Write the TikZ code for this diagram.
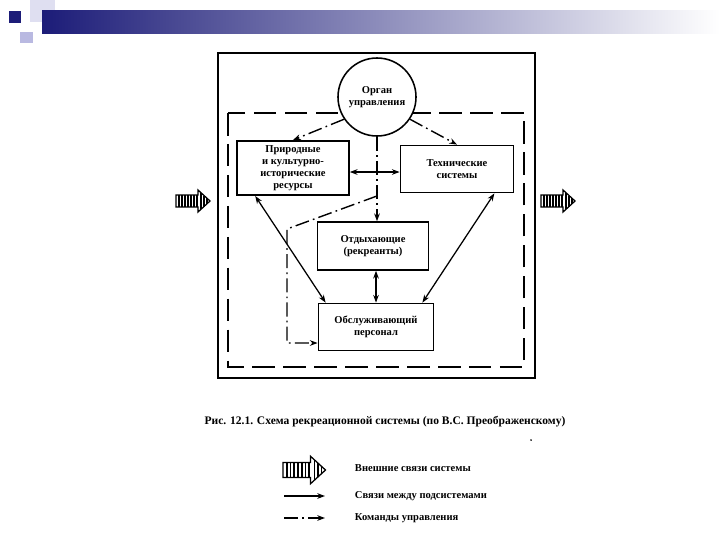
\documentclass[tikz,border=0pt]{standalone}
\usepackage{fontspec}
\setmainfont{Liberation Serif}
\usetikzlibrary{positioning, arrows.meta, calc}
\definecolor{slidenavy}{RGB}{28, 28, 120}
\definecolor{slidemid}{RGB}{150, 150, 180}
\definecolor{slidelav}{RGB}{185, 185, 225}
\tikzset{
    sysbox/.style={rectangle, draw, line width=1.1pt, fill=white, align=center,
        font=\fontsize{7.5}{8.5}\selectfont\bfseries},
    orgnode/.style={circle, draw, line width=1.1pt, fill=white, minimum size=1.95cm,
        align=center, font=\fontsize{7.5}{8.5}\selectfont\bfseries},
    flow/.style={-{Stealth[length=5.5pt,width=4pt]}, line width=0.9pt},
    link/.style={flow, {Stealth[length=5.5pt,width=4pt]}-{Stealth[length=5.5pt,width=4pt]}},
    command/.style={flow, line width=1pt, dash pattern=on 10pt off 3pt on 1.2pt off 3pt},
    legtext/.style={anchor=west, font=\fontsize{7.5}{8.5}\selectfont\bfseries},
    extarrow/.pic={
        \draw[line width=0.9pt, fill=white] (0,-6) -- (22,-6) -- (22,-11) -- (34,0)
            -- (22,11) -- (22,6) -- (0,6) -- cycle;
        \foreach \i in {3,6,...,21} \draw[line width=1.2pt] (\i,-6) -- (\i,6);
        \foreach \i in {25,28,31} \draw[line width=1pt] (\i,{-11*(34-\i)/12}) -- (\i,{11*(34-\i)/12});
    }
}

\begin{document}
\begin{tikzpicture}[x=0.025cm, y=-0.025cm]
    \useasboundingbox (0,0) rectangle (720,540);

    % slide decoration
    \fill[slidelav!45] (30,0) rectangle (55,22);
    \fill[slidelav] (20,32) rectangle (33,43);
    \fill[slidenavy] (9,11) rectangle (21,23);
    \shade[left color=slidenavy, middle color=slidemid, right color=white] (42,10) rectangle (720,33);

    % system borders
    \draw[line width=1.4pt] (218,53) rectangle (535,378);
    \draw[line width=1.4pt, dash pattern=on 16pt off 6pt] (228,113) rectangle (524,367);

    \node[orgnode] (organ) at (377,97) {Орган\\управления};
    \node[sysbox, minimum width=2.8cm, minimum height=1.2cm] (res) at (293,168)
        {Природные\\и культурно-\\исторические\\ресурсы};
    \node[sysbox, minimum width=2.83cm, minimum height=1.18cm] (tech) at (457,169)
        {Технические\\системы};
    \node[sysbox, minimum width=2.78cm, minimum height=1.2cm] (rest) at (373,246)
        {Отдыхающие\\(рекреанты)};
    \node[sysbox, minimum width=2.88cm, minimum height=1.18cm] (pers) at (376,327)
        {Обслуживающий\\персонал};

    % control commands
    \draw[command] (organ.214) -- (res.north);
    \draw[command] (organ.326) -- (tech.north);
    \draw[command] (organ.south) -- (organ.south |- rest.north);
    \coordinate (branch) at (organ.south |- res.south);
    \coordinate (knee) at (287,229);
    \coordinate (corner) at (287,343);
    \draw[command] (branch) -- (knee) -- (corner) -- (corner -| pers.west);

    % links between subsystems
    \draw[link] ($(res.east)+(0,4)$) -- ($(tech.west)+(0,3)$);
    \draw[link] ($(res.south west)+(19,0)$) -- ($(pers.north west)+(8,0)$);
    \draw[link] ($(tech.south east)+(-20,0)$) -- ($(pers.north east)+(-12,0)$);
    \draw[link] (pers.north |- rest.south) -- (pers.north);

    % external links
    \pic at (176,201) {extarrow};
    \pic at (541,201) {extarrow};

    \node[font=\fontsize{8.2}{10}\selectfont\bfseries] (caption) at (385,422)
        {Рис. 12.1. Схема рекреационной системы (по В.С. Преображенскому)};
    \fill (531,440) circle (0.7pt);

    % legend
    \pic[scale=1.25] at (283,470) {extarrow};
    \node[legtext] (lgext) at (350,468) {Внешние связи системы};
    \node[legtext] (lglink) at (350,496) {Связи между подсистемами};
    \node[legtext] (lgcmd) at (350,518) {Команды управления};
    \coordinate (lla) at (284,496);
    \coordinate (llb) at (325,496);
    \coordinate (lca) at (284,518);
    \coordinate (lcb) at (325,518);
    \draw[flow] (lla) -- (llb);
    \draw[command] (lca) -- (lcb);
\end{tikzpicture}
\end{document}
